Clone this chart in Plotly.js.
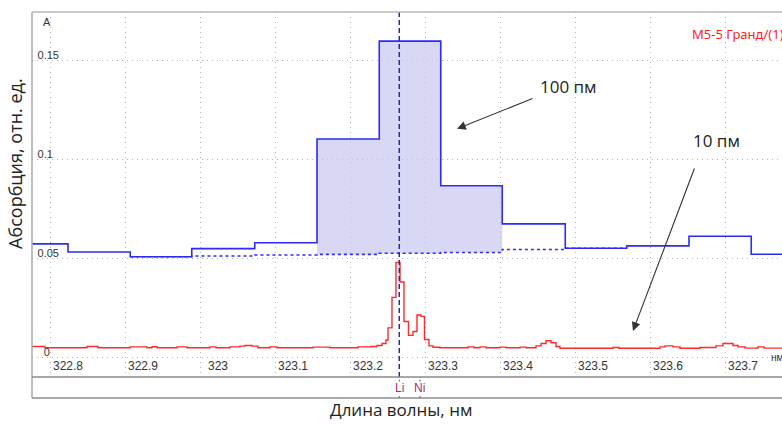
<!DOCTYPE html>
<html>
<head>
<meta charset="utf-8">
<script src="https://cdn.plot.ly/plotly-3.0.1.min.js"></script>
<style>html,body{margin:0;padding:0;background:#fff;}#chart{width:782px;height:424px;}</style>
</head>
<body>
<div id="chart"></div>
<script>
// ---- data ----
// 100 pm resolution spectrum (step bins: left edges + value per bin)
const blueEdges = [322.74, 322.824, 322.907, 322.989, 323.073, 323.156, 323.239, 323.321, 323.403, 323.487, 323.569, 323.652, 323.735, 323.82];
const blueVals  = [0.0576, 0.0535, 0.0511, 0.0552, 0.0582, 0.1106, 0.160, 0.0870, 0.0677, 0.0554, 0.0566, 0.0615, 0.0524];
// baseline of the 100 pm spectrum (dotted)
const baseEdges = [322.907, 322.989, 323.073, 323.156, 323.239, 323.321, 323.403, 323.487, 323.569];
const baseVals  = [0.0511, 0.0515, 0.0520, 0.0523, 0.0529, 0.0533, 0.0548, 0.0554];
// shaded bins (indices in blue bins) and matching baseline bins
const fillBlueIdx = [5, 6, 7];
const fillBaseIdx = [3, 4, 5];
// 10 pm resolution spectrum (step points)
const redX = [322.776, 322.7933, 322.8493, 322.864, 322.9067, 322.9293, 322.936, 322.9427, 322.9693, 322.9827,
  323.0133, 323.0213, 323.04, 323.0533, 323.06, 323.0693, 323.0773, 323.0933, 323.1027, 323.1507, 323.1733,
  323.2107, 323.228, 323.236, 323.2427, 323.248, 323.2507, 323.256, 323.2613, 323.2667, 323.272, 323.278,
  323.284, 323.2893, 323.2947, 323.2993, 323.3053, 323.3107, 323.32, 323.3573, 323.3653, 323.3733, 323.3813,
  323.4, 323.408, 323.4267, 323.4347, 323.448, 323.4547, 323.4613, 323.468, 323.4747, 323.48, 323.5507,
  323.5587, 323.6133, 323.62, 323.6307, 323.64, 323.6667, 323.688, 323.6973, 323.7107, 323.7173, 323.7267,
  323.744, 323.752, 323.776];
const redY = [0.0058, 0.0052, 0.0058, 0.0052, 0.0056, 0.0052, 0.0057, 0.0052, 0.0056, 0.0052,
  0.0056, 0.0052, 0.0056, 0.0060, 0.0063, 0.0060, 0.0052, 0.0056, 0.0052, 0.0055, 0.0052,
  0.0056, 0.0058, 0.0063, 0.0073, 0.0091, 0.0152, 0.0306, 0.0482, 0.0384, 0.0184, 0.0114,
  0.0134, 0.0217, 0.0210, 0.0093, 0.0061, 0.0054, 0.0052, 0.0056, 0.0052, 0.0056, 0.0052,
  0.0055, 0.0052, 0.0055, 0.0052, 0.0061, 0.0073, 0.0087, 0.0077, 0.0058, 0.0049, 0.0053,
  0.0049, 0.0056, 0.0061, 0.0056, 0.0049, 0.0053, 0.0061, 0.0073, 0.0063, 0.0056, 0.0050,
  0.0056, 0.0050, 0.0050];
// element lines
const elemNames = ["Li", "Ni"];
const elemNm    = [323.2657, 323.2933];
// axis ticks
const xTickVals = [322.8, 322.9, 323.0, 323.1, 323.2, 323.3, 323.4, 323.5, 323.6, 323.7];
const xTickText = ["322.8", "322.9", "323", "323.1", "323.2", "323.3", "323.4", "323.5", "323.6", "323.7"];
const yTickVals = [0, 0.05, 0.1, 0.15];
const yTickText = ["0", "0.05", "0.1", "0.15"];
// texts
const xTitle = "Длина волны, нм";
const yTitle = "Абсорбция, отн. ед.";
const label100 = "100 пм", label10 = "10 пм";
const arrow100 = {x: 323.3427, y: 0.1157};
const arrow10  = {x: 323.5773, y: 0.0136};

// ---- build ----
function withLast(edges, vals) { return {x: edges.slice(0, vals.length + 1), y: vals.concat([vals[vals.length - 1]])}; }
const blue = withLast(blueEdges, blueVals);
const base = withLast(baseEdges, baseVals);
const fx = fillBlueIdx.map(i => blueEdges[i]).concat([blueEdges[fillBlueIdx[fillBlueIdx.length - 1] + 1]]);
const fTop = fillBlueIdx.map(i => blueVals[i]); fTop.push(fTop[fTop.length - 1]);
const fBot = fillBaseIdx.map(i => baseVals[i]); fBot.push(fBot[fBot.length - 1]);
// pad y tick labels to equal width (figure/punctuation spaces) so they line up on the left
const yTickPadded = yTickText.map(t => {
  let s = t; if (s.indexOf(".") < 0) s += "\u2008";
  while (s.replace(".", "").length < 3) s += "\u2007";
  return s;
});

const BLUE = "#2b2bff";
const traces = [
  {x: fx, y: fBot, mode: "lines", line: {width: 0, shape: "hv"}, hoverinfo: "skip", showlegend: false},
  {x: fx, y: fTop, mode: "lines", line: {width: 0, shape: "hv"}, fill: "tonexty", fillcolor: "rgba(200,200,240,0.7)", hoverinfo: "skip", showlegend: false},
  {x: base.x, y: base.y, mode: "lines", line: {color: BLUE, width: 1.6, dash: "3px,3px", shape: "hv"}, showlegend: false},
  {x: blue.x, y: blue.y, mode: "lines", line: {color: BLUE, width: 1.6, shape: "hv"}, showlegend: false},
  {x: redX, y: redY, mode: "lines", line: {color: "#ff2a2a", width: 1.4, shape: "hv"}, showlegend: false}
];

const stripTop = 21 / 386;
const shapes = [
  {type: "line", xref: "x", yref: "paper", x0: elemNm[0], x1: elemNm[0], y0: stripTop, y1: 1, line: {color: "#2a2aa8", width: 1.5, dash: "5px,3px"}},
  {type: "line", xref: "paper", yref: "paper", x0: 0, x1: 0, y0: 0, y1: 1, line: {color: "#a8a8a8", width: 1.5}},
  {type: "line", xref: "paper", yref: "paper", x0: 0, x1: 1, y0: 1, y1: 1, line: {color: "#b8b8b8", width: 1.5}},
  {type: "line", xref: "paper", yref: "paper", x0: 0, x1: 1, y0: stripTop, y1: stripTop, line: {color: "#8c8c8c", width: 1.5}},
  {type: "line", xref: "paper", yref: "paper", x0: 0, x1: 1, y0: 0, y1: 0, line: {color: "#8c8c8c", width: 1.5}}
];
elemNm.forEach(v => {
  shapes.push({type: "line", xref: "x", yref: "paper", x0: v, x1: v, y0: stripTop * 0.78, y1: stripTop, line: {color: "#a04070", width: 1, dash: "2px,2px"}});
  shapes.push({type: "line", xref: "x", yref: "paper", x0: v, x1: v, y0: 0, y1: stripTop * 0.18, line: {color: "#a04070", width: 1, dash: "2px,2px"}});
});

const annotations = [
  {xref: "paper", yref: "paper", x: 0.012, y: 0.974, text: "A", showarrow: false, font: {family: "Liberation Sans, Arial", size: 11, color: "#333"}, xanchor: "left", yanchor: "middle"},
  {xref: "paper", yref: "paper", x: 0.982, y: stripTop + 0.05, text: "нм", showarrow: false, font: {family: "Liberation Sans, Arial", size: 10, color: "#333"}, xanchor: "left", yanchor: "middle"},
  {xref: "paper", yref: "paper", x: 0.877, y: 0.943, text: "M5-5 Гранд/(1)", showarrow: false, font: {family: "Noto Sans, Liberation Sans", size: 13, color: "#ff2020"}, xanchor: "left", yanchor: "middle"},
  {xref: "x", yref: "y", x: arrow100.x, y: arrow100.y, ax: 77, ay: -31, text: "", showarrow: true, arrowhead: 2, arrowsize: 1.6, arrowwidth: 1.1, arrowcolor: "#333"},
  {xref: "x", yref: "y", x: arrow10.x, y: arrow10.y, ax: 62, ay: -164, text: "", showarrow: true, arrowhead: 2, arrowsize: 1.6, arrowwidth: 1.1, arrowcolor: "#333"},
  {xref: "paper", yref: "paper", x: 0.715, y: 0.808, text: label100, showarrow: false, font: {family: "Open Sans", size: 17, color: "#222"}, xanchor: "center", yanchor: "middle"},
  {xref: "paper", yref: "paper", x: 0.913, y: 0.668, text: label10, showarrow: false, font: {family: "Open Sans", size: 17, color: "#222"}, xanchor: "center", yanchor: "middle"},
  // axis titles
  {xref: "paper", yref: "paper", x: 0.492, y: -0.031, text: xTitle, showarrow: false, font: {family: "Open Sans", size: 17, color: "#222"}, xanchor: "center", yanchor: "middle"},
  {xref: "paper", yref: "paper", x: -0.0227, y: 0.609, text: yTitle, textangle: -90, showarrow: false, font: {family: "Open Sans", size: 18, color: "#222"}, xanchor: "center", yanchor: "middle"}
];
elemNames.forEach((n, i) => {
  annotations.push({xref: "x", yref: "paper", x: elemNm[i], y: stripTop / 2, text: n, showarrow: false, font: {family: "Liberation Sans, Arial", size: 12, color: "#a03070"}, xanchor: "center", yanchor: "middle"});
});

const layout = {
  width: 782, height: 424,
  margin: {l: 32, r: 0, t: 12, b: 26, pad: 0},
  paper_bgcolor: "#fff", plot_bgcolor: "#fff",
  showlegend: false,
  xaxis: {
    range: [322.776, 323.776], domain: [0, 1],
    tickvals: xTickVals, ticktext: xTickText, ticks: "",
    ticklabelposition: "outside", ticklabelstandoff: -20, ticklabelshift: 18,
    tickfont: {family: "Liberation Sans, Arial", size: 12, color: "#333"},
    showgrid: true, gridcolor: "#b4b4b4", gridwidth: 1, griddash: "1px,4px",
    zeroline: false, showline: false
  },
  yaxis: {
    range: [-0.0096, 0.1747], domain: [stripTop, 1],
    tickvals: yTickVals, ticktext: yTickPadded, ticks: "",
    ticklabelposition: "outside", ticklabelstandoff: -28, ticklabelshift: -6,
    tickfont: {family: "Liberation Sans, Arial", size: 11, color: "#333"},
    showgrid: true, gridcolor: "#b4b4b4", gridwidth: 1, griddash: "1px,4px",
    zeroline: false, showline: false
  },
  shapes: shapes,
  annotations: annotations
};
Plotly.newPlot("chart", traces, layout, {displayModeBar: false, staticPlot: true});
</script>
</body>
</html>
